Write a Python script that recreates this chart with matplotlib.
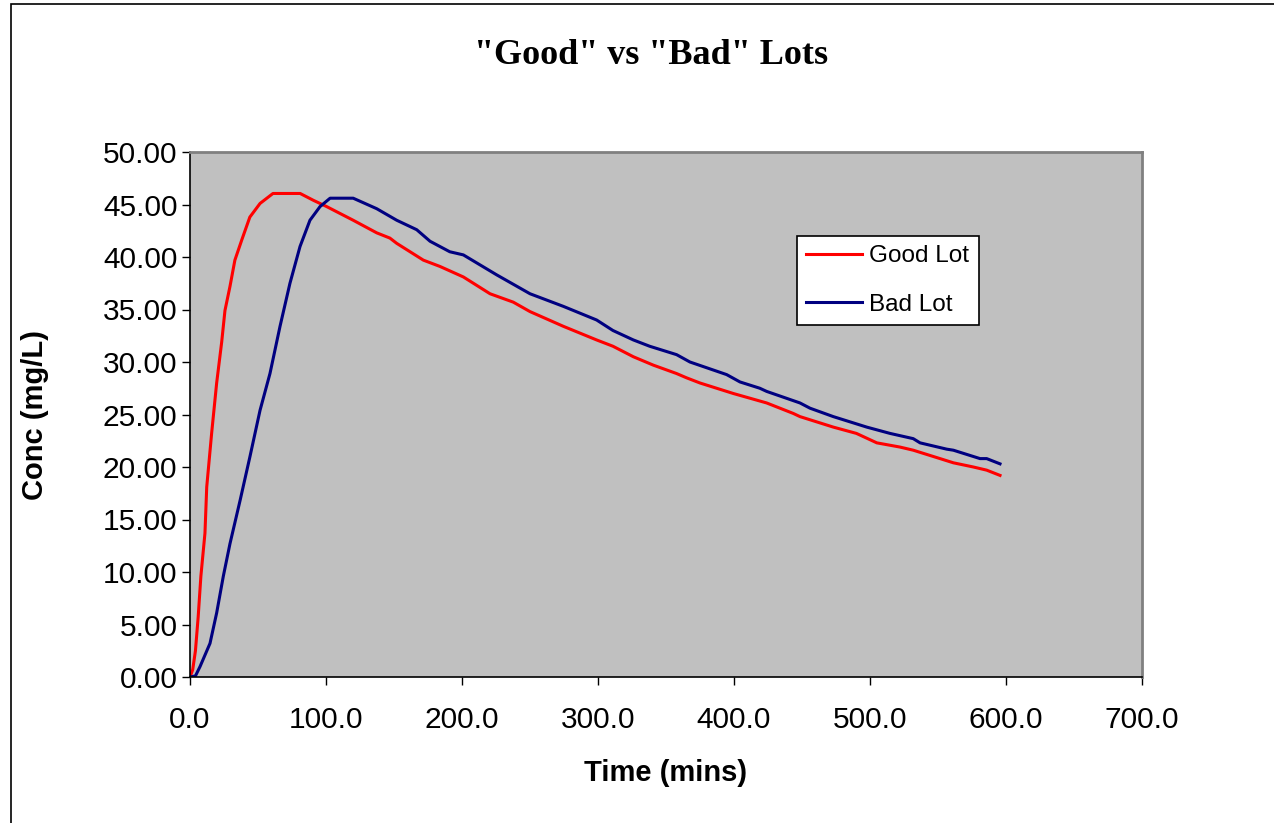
import matplotlib
matplotlib.use('Agg')
import matplotlib.pyplot as plt
from matplotlib.patches import Rectangle
from matplotlib.ticker import FormatStrFormatter, MultipleLocator


# values (time in mins, conc in mg/L)
good_t = [0, 2, 4, 6, 8, 11, 12.3, 15.9, 19.6, 23.3, 25.7, 29.4, 33, 38, 44,
          51.5, 61, 81, 90.7, 100.5, 120, 137.3, 147, 152, 171.6, 183.8, 201,
          220.6, 237.7, 250, 274.5, 299, 311, 326, 340.7, 357.8, 365, 375,
          399.5, 424, 443.6, 448.5, 473, 490, 505, 522, 531.8, 551.5, 561.3,
          576, 585.8, 595.6]
good_c = [0, 0.7, 2.5, 5.7, 9.6, 13.7, 18.1, 23.2, 28, 31.9, 34.9, 37.2, 39.7,
          41.6, 43.8, 45.1, 46.05, 46.05, 45.4, 44.8, 43.5, 42.3, 41.8, 41.3,
          39.7, 39.1, 38.1, 36.5, 35.7, 34.8, 33.4, 32.1, 31.5, 30.5, 29.7,
          28.9, 28.5, 28.0, 27.0, 26.1, 25.1, 24.8, 23.8, 23.2, 22.3, 21.9,
          21.6, 20.8, 20.4, 20.0, 19.7, 19.2]

bad_t = [0, 4, 7.4, 14.7, 19.6, 24.5, 29.4, 36.8, 44.1, 51.5, 58.8, 66.2, 73.5,
         80.9, 88.2, 95.6, 103, 120, 137.3, 152, 166.7, 176.5, 191, 201, 225.5,
         250, 274.5, 299, 311, 326, 338, 357.8, 367.6, 394.6, 404.4, 419, 424,
         448.5, 455.9, 473, 497.6, 514.7, 531.8, 536.8, 556.4, 561.3, 580.9,
         585.8, 595.6]
bad_c = [0, 0.1, 1.0, 3.2, 6.1, 9.6, 12.7, 16.8, 21, 25.4, 28.9, 33.4, 37.5,
         41, 43.5, 44.8, 45.6, 45.6, 44.6, 43.5, 42.6, 41.5, 40.5, 40.2, 38.3,
         36.5, 35.3, 34.0, 33.0, 32.1, 31.5, 30.7, 30.0, 28.8, 28.1, 27.5,
         27.2, 26.1, 25.6, 24.8, 23.8, 23.2, 22.7, 22.3, 21.7, 21.6, 20.8,
         20.8, 20.3]

W, H = 1274, 823
plt.rcParams['font.family'] = ['Liberation Sans', 'DejaVu Sans']

fig = plt.figure(figsize=(W / 100, H / 100), dpi=100)
fig.patch.set_facecolor('white')

# chart area border (cropped on the right and bottom in the reference)
fig.patches.append(Rectangle((11 / W, -0.1), 1.2, 1.1 - 4 / H,
                             transform=fig.transFigure, fill=False,
                             edgecolor='black', linewidth=1.2))

ax = fig.add_axes([190 / W, 1 - 677 / H, (1142 - 190) / W, (677 - 152) / H])
ax.set_facecolor('#C0C0C0')

ax.plot(good_t, good_c, color='#FF0000', lw=2.2, label='Good Lot')
ax.plot(bad_t, bad_c, color='#000080', lw=2.2, label='Bad Lot')

ax.set_xlim(0, 700)
ax.set_ylim(0, 50)
ax.xaxis.set_major_locator(MultipleLocator(100))
ax.yaxis.set_major_locator(MultipleLocator(5))
ax.xaxis.set_major_formatter(FormatStrFormatter('%.1f'))
ax.yaxis.set_major_formatter(FormatStrFormatter('%.2f'))
ax.tick_params(labelsize=21.5, length=6, width=1, direction='out')
ax.tick_params(axis='x', pad=15)
ax.tick_params(axis='y', pad=3)

for side in ('top', 'right'):
    ax.spines[side].set_color('#808080')
    ax.spines[side].set_linewidth(2)
for side in ('left', 'bottom'):
    ax.spines[side].set_color('black')
    ax.spines[side].set_linewidth(1.2)

ax.set_xlabel('Time (mins)', fontsize=21, fontweight='bold', va='center')
ax.set_ylabel('Conc (mg/L)', fontsize=21, fontweight='bold', va='center')
ax.xaxis.set_label_coords(0.5, (677 - 773) / 525)
ax.yaxis.set_label_coords((35 - 190) / 952, (677 - 415) / 525)

fig.text(651 / W, 1 - 55 / H, '"Good" vs "Bad" Lots', ha='center', va='center',
         fontsize=26, fontweight='bold', family='Liberation Serif')

leg = ax.legend(loc='upper left', bbox_to_anchor=(797 / W, 1 - 236 / H),
                bbox_transform=fig.transFigure, fontsize=17.5, frameon=True,
                fancybox=False, edgecolor='black', framealpha=1,
                handlelength=2.3, handletextpad=0.3, borderpad=0.38,
                labelspacing=1.1, borderaxespad=0)
leg.get_frame().set_linewidth(1.2)

fig.savefig('out.png', dpi=100)
